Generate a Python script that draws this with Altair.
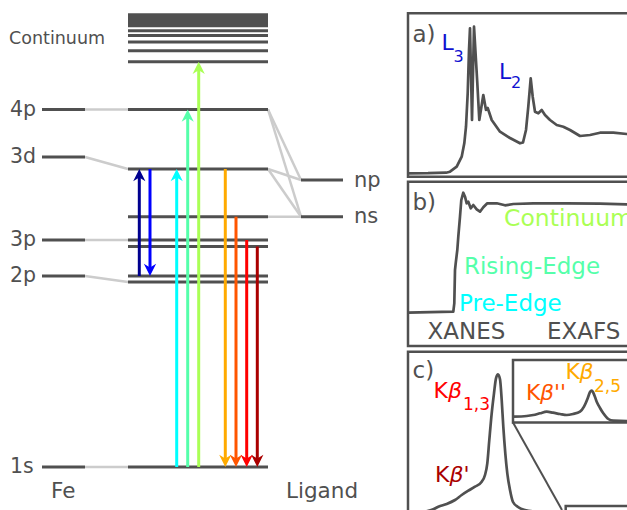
import altair as alt
import pandas as pd

W, H = 627, 510
GRAY = "#505050"
LIGHT = "#cccccc"
FONT = "DejaVu Sans"

# ---------------- data (diagram energy units, up = higher) ----------------
fe_levels = ["1s", "2p", "3p", "3d", "4p"]
fe_energy = [43, 234, 270, 353, 400.5]
fe_corr_to = [43, 228, 270, 341, 400.5]          # complex level each Fe level connects to
complex_energy = [43, 228, 234, 263.5, 270, 293.3, 341, 400.5]
ligand_levels = ["ns", "np"]
ligand_energy = [293.3, 330]
lig_corr_from = [400.5, 400.5, 341, 341, 293.3]
lig_corr_to = [330, 293.3, 330, 293.3, 293.3]
continuum_energy = [448.3, 459.3, 468, 474.5, 479.3]
continuum_band = [482.7, 496.7]

arrow_colors = ["#00008f", "#0000ff", "#00ffff", "#55ffaa", "#aaff55",
                "#ffaa00", "#ff5500", "#ff0000", "#aa0000"]
arrow_pos = [139.3, 150, 176.7, 187.7, 198.7, 225.3, 236, 246.7, 257.3]
arrow_start = [234, 341, 43, 43, 43, 341, 293.3, 270, 263.5]
arrow_end = [341, 234, 341, 400.5, 448.3, 43, 43, 43, 43]

# a) L-edge XAS
a_energy = [0, 20, 38, 42, 48.7, 53.7, 56.3, 58, 59.7, 61, 62, 64, 66, 69.3, 71.3,
            75.3, 78, 79.7, 83.7, 92, 102, 112, 115, 118, 120.3, 122.7, 124.7, 127,
            130.3, 133.7, 137, 142, 148.7, 155.3, 162, 172, 182, 192, 205.3, 218.7, 230]
a_intensity = [0.2, 0.3, 0.8, 1.8, 6.8, 16.8, 30.2, 46.8, 80.2, 123.5, 145.2, 53.5, 146.8,
               90.5, 53.5, 78.5, 63.5, 65.5, 53.5, 41.8, 35.5, 30.2, 31, 43.5, 66.8, 95.2,
               76.8, 61.8, 60.2, 63.5, 58.5, 53.5, 48.5, 46.8, 43.5, 37.5, 38.5, 40.8,
               40.8, 39.5, 39.5]
# b) K-edge XAS
b_energy = [0, 45.3, 46.3, 47, 47.7, 49.3, 50.3, 52, 53.3, 55.3, 57, 58.7, 60.3, 62.7,
            65.3, 68.7, 72, 75.3, 79.3, 88.7, 97, 105.3, 125.3, 158.7, 192, 218.7, 230]
b_intensity = [0, 1, 9.4, 42.7, 49.4, 62.7, 76, 96, 112.7, 120, 116, 109.4, 111, 104.4,
               107.7, 103.4, 101, 105.4, 109.4, 109.4, 107.4, 108.7, 109.4, 109.4, 109,
               108.4, 108.4]
# c) K-beta emission (main lines)
c_energy = [15, 25.3, 30.3, 38.7, 47, 53.7, 60.3, 67, 73.7, 77, 79.3, 81.3, 83.7, 86, 88,
            90, 92, 93.7, 95.3, 97.3, 99.3, 102, 105, 110, 117, 132]
c_intensity = [0, 2.7, 5.3, 8, 12, 17, 21.3, 25.3, 30.3, 37, 48.7, 72, 98.7, 118.7,
               133.7, 137.7, 132.7, 112, 85.3, 58.7, 38.7, 22, 10, 5, 2, 0]
# c) inset: valence-to-core region
v_energy = [105.3, 118.7, 125.3, 132, 138.7, 145, 152, 158.7, 165, 172, 176, 179.7, 182,
            183.7, 185.3, 188.7, 192, 195.3, 200.3, 205.3, 219, 230]
v_intensity = [4.3, 5, 6, 7.7, 9.3, 8.3, 7, 6, 7, 9.3, 14.3, 22.7, 29, 30.3, 28.3, 19.3,
               13, 7.7, 2, 0.3, 0, 0]

# ---------------- layout constants ----------------
FE_X = (42, 85)
CX = (128, 268)
LIG_X = (301, 343)
PANEL_X0 = 408
BASE_A, BASE_B, BASE_C, BASE_V = 336.5, 197.3, -2, 89

# ---------------- tables ----------------
dark = []
for e in fe_energy:
    dark.append(dict(x=FE_X[0], x2=FE_X[1], y=e, y2=e))
for e in complex_energy + continuum_energy:
    dark.append(dict(x=CX[0], x2=CX[1], y=e, y2=e))
for e in ligand_energy:
    dark.append(dict(x=LIG_X[0], x2=LIG_X[1], y=e, y2=e))
dark = pd.DataFrame(dark)

light = []
for e0, e1 in zip(fe_energy, fe_corr_to):
    light.append(dict(x=FE_X[1], x2=CX[0], y=e0, y2=e1))
for e0, e1 in zip(lig_corr_from, lig_corr_to):
    light.append(dict(x=CX[1], x2=LIG_X[0], y=e0, y2=e1))
light = pd.DataFrame(light)

band = pd.DataFrame([dict(x=CX[0], x2=CX[1], y=continuum_band[0], y2=continuum_band[1])])

shafts, heads_up, heads_dn = [], [], []
for c, xp, s, e in zip(arrow_colors, arrow_pos, arrow_start, arrow_end):
    d = 1 if e > s else -1
    shafts.append(dict(x=xp, x2=xp, y=s, y2=e - d * 6, c=c))
    (heads_up if d > 0 else heads_dn).append(dict(x=xp, y=e, c=c))
shafts = pd.DataFrame(shafts)
heads_up = pd.DataFrame(heads_up)
heads_dn = pd.DataFrame(heads_dn)

frames = pd.DataFrame([
    dict(x=408, x2=650, y=333.3, y2=496.7),
    dict(x=408, x2=650, y=164, y2=328.3),
    dict(x=408, x2=650, y=-30, y2=158.3),
    dict(x=513, x2=650, y=87.5, y2=150),
    dict(x=565.7, x2=650, y=-30, y2=4),
])
zoomline = pd.DataFrame([dict(x=513, x2=562, y=87.5, y2=0)])


def spec(name, en, inten, base):
    return pd.DataFrame(dict(s=name, i=range(len(en)),
                             x=[PANEL_X0 + v for v in en],
                             y=[base + v for v in inten]))


spec_lin = pd.concat([spec("a", a_energy, a_intensity, BASE_A),
                      spec("b", b_energy, b_intensity, BASE_B)])
spec_smooth = pd.concat([spec("c", c_energy, c_intensity, BASE_C),
                         spec("v", v_energy, v_intensity, BASE_V)])

BLUE, RED, DRED, ORR, ORG = "#1010d0", "#ff0000", "#aa0000", "#ff5500", "#ffaa00"
labels = pd.DataFrame([
    dict(t="Continuum", x=9, y=471.5, c=GRAY, s=17.5, it=0),
    dict(t="4p", x=10, y=400.5, c=GRAY, s=20.5, it=0),
    dict(t="3d", x=10, y=353, c=GRAY, s=20.5, it=0),
    dict(t="3p", x=10, y=270, c=GRAY, s=20.5, it=0),
    dict(t="2p", x=10, y=234, c=GRAY, s=20.5, it=0),
    dict(t="1s", x=10, y=43, c=GRAY, s=20.5, it=0),
    dict(t="Fe", x=51, y=18, c=GRAY, s=21.5, it=0),
    dict(t="Ligand", x=286, y=18, c=GRAY, s=21.5, it=0),
    dict(t="np", x=354, y=329, c=GRAY, s=21, it=0),
    dict(t="ns", x=354, y=293, c=GRAY, s=21, it=0),
    dict(t="a)", x=412.5, y=475, c=GRAY, s=23, it=0),
    dict(t="L", x=441.5, y=467.5, c=BLUE, s=22, it=0),
    dict(t="3", x=453.5, y=453, c=BLUE, s=16, it=0),
    dict(t="L", x=499, y=438.5, c=BLUE, s=22, it=0),
    dict(t="2", x=511, y=427.5, c=BLUE, s=16, it=0),
    dict(t="b)", x=412.5, y=307, c=GRAY, s=23, it=0),
    dict(t="Continuum", x=504, y=291, c="#aaff55", s=23.5, it=0),
    dict(t="Rising-Edge", x=464, y=243.3, c="#55ffaa", s=23, it=0),
    dict(t="Pre-Edge", x=459, y=206, c="#00ffff", s=23, it=0),
    dict(t="XANES", x=427.5, y=178, c=GRAY, s=23, it=0),
    dict(t="EXAFS", x=547, y=178, c=GRAY, s=23, it=0),
    dict(t="c)", x=412.5, y=139.3, c=GRAY, s=23, it=0),
    dict(t="K", x=433.5, y=119.5, c=RED, s=22, it=0),
    dict(t="β", x=448, y=119.5, c=RED, s=22, it=1),
    dict(t="1,3", x=463, y=105, c=RED, s=17, it=0),
    dict(t="K", x=435, y=35, c=DRED, s=22, it=0),
    dict(t="β'", x=449.5, y=35, c=DRED, s=22, it=1),
    dict(t="K", x=526, y=117.5, c=ORR, s=22, it=0),
    dict(t="β''", x=540, y=117.5, c=ORR, s=22, it=1),
    dict(t="K", x=565.5, y=138, c=ORG, s=22, it=0),
    dict(t="β", x=579.5, y=138, c=ORG, s=22, it=1),
    dict(t="2,5", x=594, y=123, c=ORG, s=17, it=0),
])

# ---------------- encodings ----------------
XS = alt.Scale(domain=[0, W], nice=False, zero=False)
YS = alt.Scale(domain=[0, H], nice=False, zero=False)


def enc_xy():
    return dict(x=alt.X("x:Q", scale=XS, axis=None),
                y=alt.Y("y:Q", scale=YS, axis=None))


def enc_seg():
    d = enc_xy()
    d.update(x2="x2:Q", y2="y2:Q")
    return d


light_l = alt.Chart(light).mark_rule(color=LIGHT, strokeWidth=2.5).encode(**enc_seg())
dark_l = alt.Chart(dark).mark_rule(color=GRAY, strokeWidth=3).encode(**enc_seg())
band_l = alt.Chart(band).mark_rect(color=GRAY).encode(**enc_seg())
shaft_l = alt.Chart(shafts).mark_rule(strokeWidth=3).encode(
    color=alt.Color("c:N", scale=None), **enc_seg())
UP = "M0,0L-1,2L0,1.4L1,2Z"
DN = "M0,0L-1,-2L0,-1.4L1,-2Z"
hup_l = alt.Chart(heads_up).mark_point(shape=UP, filled=True, size=150, opacity=1,
                                       strokeWidth=0).encode(
    color=alt.Color("c:N", scale=None), **enc_xy())
hdn_l = alt.Chart(heads_dn).mark_point(shape=DN, filled=True, size=150, opacity=1,
                                       strokeWidth=0).encode(
    color=alt.Color("c:N", scale=None), **enc_xy())
frame_l = alt.Chart(frames).mark_rect(fill="white", fillOpacity=0, stroke=GRAY,
                                      strokeWidth=2.5).encode(**enc_seg())
zoom_l = alt.Chart(zoomline).mark_rule(color=GRAY, strokeWidth=2).encode(**enc_seg())
spec1 = alt.Chart(spec_lin).mark_line(color=GRAY, strokeWidth=2.7,
                                      strokeJoin="round").encode(
    detail="s:N", order="i:Q", **enc_xy())
spec2 = alt.Chart(spec_smooth).mark_line(color=GRAY, strokeWidth=2.7,
                                         interpolate="monotone").encode(
    detail="s:N", order="i:Q", **enc_xy())
txt_n = alt.Chart(labels).transform_filter("datum.it == 0").mark_text(
    align="left", baseline="middle", font=FONT).encode(
    text="t:N", color=alt.Color("c:N", scale=None),
    size=alt.Size("s:Q", scale=None), **enc_xy())
txt_i = alt.Chart(labels).transform_filter("datum.it == 1").mark_text(
    align="left", baseline="middle", font=FONT, fontStyle="italic").encode(
    text="t:N", color=alt.Color("c:N", scale=None),
    size=alt.Size("s:Q", scale=None), **enc_xy())

chart = alt.layer(light_l, dark_l, band_l, shaft_l, hup_l, hdn_l, frame_l, zoom_l,
                  spec1, spec2, txt_n, txt_i).properties(
    width=W, height=H, padding=0, autosize=alt.AutoSizeParams(type="none"),
    background="white"
).configure_view(strokeWidth=0)

chart.save("out.html", embed_options={"renderer": "svg", "actions": False})
